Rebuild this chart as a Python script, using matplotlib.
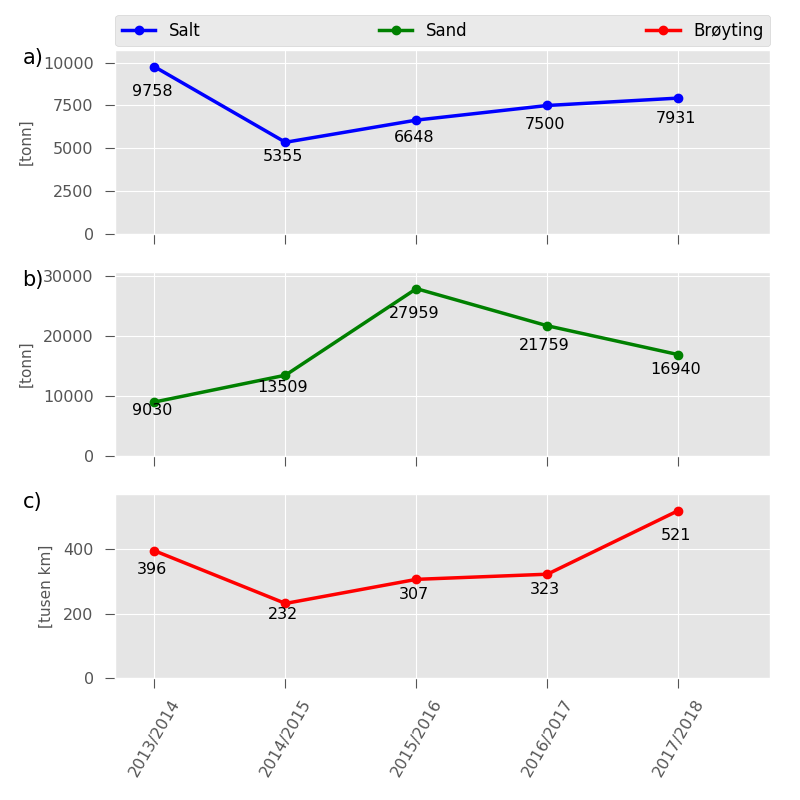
import matplotlib
matplotlib.use("Agg")
import matplotlib.pyplot as plt
from matplotlib.ticker import MaxNLocator

plt.style.use("ggplot")

seasons = ["2013/2014", "2014/2015", "2015/2016", "2016/2017", "2017/2018"]
salt = [9758, 5355, 6648, 7500, 7931]
sand = [9030, 13509, 27959, 21759, 16940]
broyting = [396, 232, 307, 323, 521]

series = [("Salt", salt, "#0000FF", "[tonn]", "a)"),
          ("Sand", sand, "#008000", "[tonn]", "b)"),
          ("Brøyting", broyting, "#FF0000", "[tusen km]", "c)")]

fig, axes = plt.subplots(3, 1, figsize=(8, 8), dpi=100, sharex=True)
fig.subplots_adjust(left=0.144, right=0.9625, top=0.9375, bottom=0.1525, hspace=0.205)

x = list(range(len(seasons)))
handles = []
for ax, (name, vals, col, ylab, tag) in zip(axes, series):
    h, = ax.plot(x, vals, color=col, marker="o", lw=2.5, ms=6, label=name)
    handles.append(h)
    for xi, v in zip(x, vals):
        ax.text(xi - 0.02, v * 0.85, str(v), ha="center", va="center",
                fontsize=11.5, color="black")
    ax.set_ylim(0, max(vals) * 1.1)
    ax.yaxis.set_major_locator(MaxNLocator(nbins=5, steps=[1, 2, 2.5, 5, 10]))
    ax.set_ylabel(ylab, fontsize=11, color="#555555", labelpad=7)
    ax.tick_params(axis="y", labelsize=11.5, length=7.5, pad=8)
    ax.tick_params(axis="x", length=7.5, pad=6)
    pos = ax.get_position()
    fig.text(0.028, pos.y1 - 0.01, tag, fontsize=15, ha="left", va="center")

axes[-1].set_xlim(-0.3, 4.7)
axes[-1].set_xticks(x)
axes[-1].set_xticklabels(seasons, rotation=60, fontsize=11.5)
for ax in axes[:-1]:
    ax.tick_params(axis="x", labelbottom=False)

axes[0].legend(handles=handles, loc="lower left", bbox_to_anchor=(0, 1.02, 1, 0.2),
               mode="expand", ncol=3, fontsize=12, borderaxespad=0,
               facecolor="#E5E5E5", edgecolor="#CCCCCC")

fig.savefig("out.png", dpi=100)
